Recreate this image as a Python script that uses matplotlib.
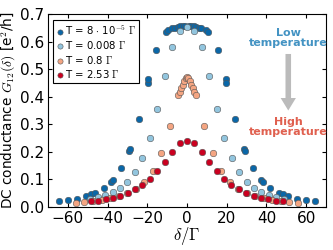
import numpy as np
import matplotlib.pyplot as plt

plt.rcParams['mathtext.fontset'] = 'cm'
plt.rcParams['font.family'] = ['DejaVu Sans']

# T = 8e-5 Gamma
x_a = [-64.4, -60, -55.5, -51, -48.3, -46.5, -42, -38.4, -37.5, -33, -29, -28.7, -24, -19.8, -19.4,
       -15.5, -10.8, -9.5, -7.3, -6, -4.7, -3.4, -2.1, -0.8, 0.8, 2.1, 3.4, 4.7, 6, 7.3,
       9.5, 10.8, 15.5, 19.4, 19.8, 24, 28.7, 29, 33, 37.5, 38.4, 42, 46.5, 48.3, 51, 55.5, 60, 64.4]
y_a = [0.021, 0.024, 0.030, 0.040, 0.047, 0.052, 0.070, 0.092, 0.098, 0.143, 0.204, 0.210, 0.318, 0.449, 0.464,
       0.569, 0.634, 0.642, 0.648, 0.651, 0.653, 0.655, 0.656, 0.657, 0.657, 0.656, 0.655, 0.653, 0.651, 0.648,
       0.642, 0.634, 0.569, 0.464, 0.449, 0.318, 0.210, 0.204, 0.143, 0.098, 0.092, 0.070, 0.052, 0.047, 0.040, 0.030, 0.024, 0.021]

# T = 0.008 Gamma
x_b = [-48.75, -45, -41.25, -37.5, -33.75, -30, -26.25, -22.5, -18.75, -15, -11.25, -7.5, -3.75,
       0, 3.75, 7.5, 11.25, 15, 18.75, 22.5, 26.25, 30, 33.75, 37.5, 41.25, 45, 48.75]
y_b = [0.028, 0.035, 0.044, 0.053, 0.070, 0.092, 0.126, 0.177, 0.251, 0.354, 0.476, 0.581, 0.638,
       0.652, 0.638, 0.581, 0.476, 0.354, 0.251, 0.177, 0.126, 0.092, 0.070, 0.053, 0.044, 0.035, 0.028]

# T = 0.8 Gamma
x_c = [-55.9, -51.6, -47.3, -43, -38.7, -34.4, -30.1, -25.8, -21.5, -17.2, -12.9, -8.6,
       -4.3, -3.6, -2.9, -2.2, -1.4, -0.7, 0, 0.7, 1.4, 2.2, 2.9, 3.6, 4.3,
       8.6, 12.9, 17.2, 21.5, 25.8, 30.1, 34.4, 38.7, 43, 47.3, 51.6, 55.9]
y_c = [0.015, 0.017, 0.021, 0.025, 0.031, 0.040, 0.050, 0.066, 0.092, 0.132, 0.197, 0.295,
       0.405, 0.418, 0.430, 0.443, 0.456, 0.467, 0.473, 0.467, 0.456, 0.443, 0.430, 0.418, 0.405,
       0.295, 0.197, 0.132, 0.092, 0.066, 0.050, 0.040, 0.031, 0.025, 0.021, 0.017, 0.015]

# T = 2.53 Gamma
x_d = [-48.5, -44.7, -41, -37.3, -33.6, -29.8, -26.1, -22.4, -18.6, -14.9, -11.2, -7.4, -3.7,
       0, 3.7, 7.4, 11.2, 14.9, 18.6, 22.4, 26.1, 29.8, 33.6, 37.3, 41, 44.7, 48.5]
y_d = [0.020, 0.023, 0.028, 0.034, 0.040, 0.050, 0.064, 0.080, 0.102, 0.131, 0.164, 0.201, 0.231,
       0.240, 0.231, 0.201, 0.164, 0.131, 0.102, 0.080, 0.064, 0.050, 0.040, 0.034, 0.028, 0.023, 0.020]

labels = [r'T = 8 $\cdot$ 10$^{-5}$ $\Gamma$', r'T = 0.008 $\Gamma$', r'T = 0.8 $\Gamma$', r'T = 2.53 $\Gamma$']
colors = ['#0a67a8', '#92c5de', '#f4a582', '#ca0020']

fig = plt.figure(figsize=(3.33, 2.5), dpi=100)
ax = fig.add_axes([0.144, 0.172, 0.835, 0.772])

for xs, ys, c, lab in zip([x_a, x_b, x_c, x_d], [y_a, y_b, y_c, y_d], colors, labels):
    ax.scatter(xs, ys, s=22, c=c, edgecolors='#555555', linewidths=0.4, label=lab, zorder=3)

ax.set_xlim(-70, 70)
ax.set_ylim(0, 0.7)
ax.set_xticks([-60, -40, -20, 0, 20, 40, 60])
ax.set_yticks(np.arange(0, 0.71, 0.1))
ax.set_yticklabels([f'{v:.1f}' for v in np.arange(0, 0.71, 0.1)])
ax.tick_params(direction='in', top=True, right=True, labelsize=11, length=3, pad=3)
ax.set_xlabel(r'$\delta/\Gamma$', fontsize=12, labelpad=-1)
ax.set_ylabel(r'DC conductance $G_{12}(\delta)$ [e$^2$/h]', fontsize=9.8, labelpad=1)

leg = ax.legend(loc='upper left', fontsize=7.3, handletextpad=0.1, handlelength=0.8,
                borderpad=0.3, labelspacing=0.25, fancybox=False, framealpha=1,
                bbox_to_anchor=(0.0, 0.995), markerscale=0.8)
leg.get_frame().set_edgecolor('black')
leg.get_frame().set_linewidth(0.8)

ax.text(51, 0.612, 'Low\ntemperature', color='#4393c3', fontsize=8, fontweight='bold',
        ha='center', va='center', linespacing=1.0)
ax.text(51, 0.289, 'High\ntemperature', color='#e0604f', fontsize=8, fontweight='bold',
        ha='center', va='center', linespacing=1.0)
ax.annotate('', xy=(51, 0.35), xytext=(51, 0.555),
            arrowprops=dict(facecolor='#bbbbbb', edgecolor='none', width=4, headwidth=11, headlength=9))

fig.savefig('out.png', dpi=100)
